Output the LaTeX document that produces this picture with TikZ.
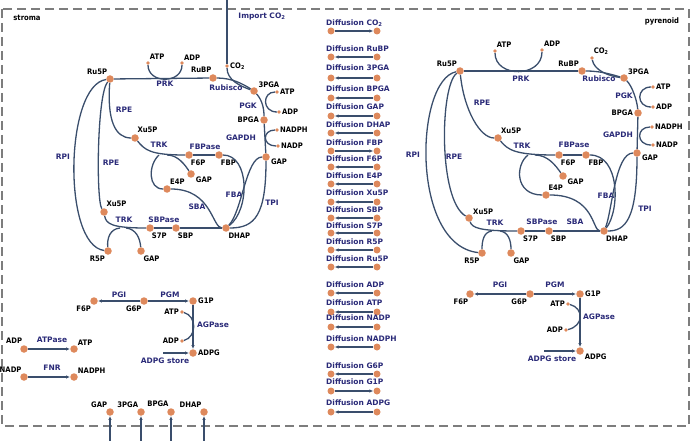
\documentclass[tikz,border=0pt]{standalone}
\usepackage{fontspec}
\setmainfont{DejaVu Sans}
\newfontfamily\metfont{DejaVu Sans Condensed}
\usetikzlibrary{arrows.meta, positioning}
\definecolor{dotc}{RGB}{222,137,92}
\definecolor{linec}{RGB}{58,78,108}
\definecolor{enzc}{RGB}{42,42,120}
\definecolor{edgec}{RGB}{125,125,125}

\begin{document}
\begin{tikzpicture}[x=1pt, y=-1pt,
  dot/.style={circle, fill=dotc, inner sep=0pt, minimum size=7.5pt},
  sdot/.style={circle, fill=dotc, inner sep=0pt, minimum size=3.6pt},
  met/.style={font=\metfont\fontsize{7.6}{8}\selectfont\bfseries, text=black, inner sep=1pt},
  enz/.style={font=\fontsize{7.5}{8}\selectfont\bfseries, text=enzc, inner sep=1pt},
  rxn/.style={draw=linec, line width=1.3pt},
  arrow/.style={rxn, -{Latex[length=4pt, width=3.5pt]}},
  dfw/.style={-{Latex[length=4pt, width=3.5pt]}},
  dbw/.style={{Latex[length=4pt, width=3.5pt]}-},
  border/.style={draw=edgec, line width=1.2pt, dash pattern=on 9pt off 5pt}]
\useasboundingbox (0,0) rectangle (691,441);
\draw[border] (2,9) rectangle (689,426);
\node[met] (stroma) at (27,18) {stroma};
\node[met] (pyrenoid) at (662,21) {pyrenoid};

% stroma: Calvin cycle
\node[dot, label={[met]115:Ru5P}] (sRu5P) at (110,79) {};
\node[dot, label={[met]95:RuBP}] (sRuBP) at (213,78) {};
\node[sdot, label={[met]70:ATP}] (sATP1) at (148,63) {};
\node[sdot, label={[met]60:ADP}] (sADP1) at (182,63) {};
\node[sdot, label={[met]0:CO\textsubscript{2}}] (sCO2) at (227,66) {};
\node[dot, label={[met]30:3PGA}] (s3PGA) at (254,91) {};
\node[sdot, label={[met]0:ATP}] (sATP2) at (277,92) {};
\node[sdot, label={[met]0:ADP}] (sADP2) at (279,112) {};
\node[dot, label={[met]180:BPGA}] (sBPGA) at (264,120) {};
\node[sdot, label={[met]0:NADPH}] (sNADPH) at (277,130) {};
\node[sdot, label={[met]0:NADP}] (sNADP) at (278,146) {};
\node[dot, label={[met]-10:GAP}] (sGAP1) at (266,157) {};
\node[dot, label={[met]70:Xu5P}] (sXu5P1) at (135,138) {};
\node[dot, label={[met]-80:F6P}] (sF6P) at (189,155) {};
\node[dot, label={[met]-80:FBP}] (sFBP) at (219,155) {};
\node[dot, label={[met]-20:GAP}] (sGAP2) at (191,174) {};
\node[dot, label={[met]60:E4P}] (sE4P) at (167,189) {};
\node[dot, label={[met]70:Xu5P}] (sXu5P2) at (104,212) {};
\node[dot, label={[met]-80:S7P}] (sS7P) at (150,228) {};
\node[dot, label={[met]-80:SBP}] (sSBP) at (176,228) {};
\node[dot, label={[met]-70:DHAP}] (sDHAP) at (226,228) {};
\node[dot, label={[met]-120:R5P}] (sR5P) at (108,251) {};
\node[dot, label={[met]-70:GAP}] (sGAP3) at (141,251) {};
\coordinate (sImp) at (227,0);
\coordinate (sTrkA) at (167,155);
\coordinate (sTrkB) at (159,155);
\coordinate (sTrkC) at (120,228);
\coordinate (sTrkD) at (126,228);

\node[enz] (sImpL) at (262,16) {Import CO\textsubscript{2}};
\node[enz] (sPRK) at (165,84) {PRK};
\node[enz] (sRubisco) at (226,88) {Rubisco};
\node[enz] (sPGK) at (248,106) {PGK};
\node[enz] (sGAPDH) at (241,138) {GAPDH};
\node[enz] (sRPE1) at (124,110) {RPE};
\node[enz] (sTRK1) at (159,145) {TRK};
\node[enz] (sFBPase) at (205,147) {FBPase};
\node[enz] (sRPI) at (63,157) {RPI};
\node[enz] (sRPE2) at (111,163) {RPE};
\node[enz] (sSBA) at (197,207) {SBA};
\node[enz] (sFBA) at (234,195) {FBA};
\node[enz] (sTPI) at (272,203) {TPI};
\node[enz] (sTRK2) at (124,220) {TRK};
\node[enz] (sSBPase) at (164,220) {SBPase};

\draw[rxn] (sRu5P) -- (sRuBP);
\draw[rxn] (sATP1) .. controls (148,84) and (182,84) .. (sADP1);
\draw[rxn] (sRuBP) .. controls (232,78) and (243,84) .. (s3PGA);
\draw[rxn] (sImp) -- (sCO2);
\draw[rxn] (sCO2) .. controls (227,80) and (240,86) .. (s3PGA);
\draw[rxn] (s3PGA) .. controls (262,100) and (264,108) .. (sBPGA);
\draw[rxn] (sATP2) .. controls (262,92) and (262,112) .. (sADP2);
\draw[rxn] (sBPGA) -- (sGAP1);
\draw[rxn] (sNADPH) .. controls (262,130) and (262,146) .. (sNADP);
\draw[rxn] (sRu5P) .. controls (107,120) and (115,138) .. (sXu5P1);
\draw[rxn] (sRu5P) .. controls (97,95) and (96,200) .. (sXu5P2);
\draw[rxn] (sRu5P) .. controls (65,85) and (62,245) .. (sR5P);
\draw[rxn] (sXu5P1) .. controls (145,150) and (150,155) .. (sF6P);
\draw[rxn] (sTrkA) .. controls (178,155) and (185,165) .. (sGAP2);
\draw[rxn] (sTrkB) .. controls (148,165) and (148,189) .. (sE4P);
\draw[rxn] (sFBP) -- (sF6P);
\draw[rxn] (sFBP) .. controls (250,155) and (250,210) .. (sDHAP);
\draw[rxn] (sGAP1) .. controls (246,157) and (242,212) .. (sDHAP);
\draw[rxn] (sGAP1) .. controls (266,215) and (255,228) .. (sDHAP);
\draw[rxn] (sE4P) .. controls (212,189) and (212,228) .. (sDHAP);
\draw[rxn] (sSBP) -- (sDHAP);
\draw[rxn] (sS7P) -- (sSBP);
\draw[rxn] (sXu5P2) .. controls (106,224) and (112,228) .. (sS7P);
\draw[rxn] (sTrkC) .. controls (110,229) and (107,238) .. (sR5P);
\draw[rxn] (sTrkD) .. controls (136,229) and (140,238) .. (sGAP3);

% stroma: starch, ATP and NADPH
\node[dot, label={[met]-120:F6P}] (sF6Pb) at (94,301) {};
\node[dot, label={[met]-110:G6P}] (sG6P) at (144,301) {};
\node[dot, label={[met]0:G1P}] (sG1P) at (193,301) {};
\node[sdot, label={[met]180:ATP}] (sATP3) at (182,312) {};
\node[sdot, label={[met]180:ADP}] (sADP3) at (182,341) {};
\node[dot, label={[met]0:ADPG}] (sADPG) at (193,353) {};
\coordinate (sStore) at (163,353);
\node[enz] (sPGI) at (119,295) {PGI};
\node[enz] (sPGM) at (170,295) {PGM};
\node[enz] (sAGPase) at (213,325) {AGPase};
\node[enz] (sStoreL) at (165,361) {ADPG store};
\draw[arrow] (sG6P) -- (sF6Pb);
\draw[arrow] (sG6P) -- (sG1P);
\draw[arrow] (sG1P) -- (sADPG);
\draw[rxn] (sATP3) .. controls (197,316) and (197,337) .. (sADP3);
\draw[arrow] (sStore) -- (sADPG);

\node[dot, label={[met]100:ADP}] (sADPa) at (24,349) {};
\node[dot, label={[met]45:ATP}] (sATPa) at (74,349) {};
\node[dot, label={[met]110:NADP}] (sNADPa) at (24,377) {};
\node[dot, label={[met]45:NADPH}] (sNADPHa) at (74,377) {};
\node[enz] (sATPase) at (52,340) {ATPase};
\node[enz] (sFNR) at (52,368) {FNR};
\draw[arrow] (sADPa) -- (sATPa);
\draw[arrow] (sNADPa) -- (sNADPHa);

% exchange with the cytosol
\node[dot, label={[met]115:GAP}] (bGAP) at (110,412) {};
\node[dot, label={[met]115:3PGA}] (b3PGA) at (141,412) {};
\node[dot, label={[met]110:BPGA}] (bBPGA) at (171,412) {};
\node[dot, label={[met]110:DHAP}] (bDHAP) at (204,412) {};
\coordinate (bGAPo) at (110,441);
\coordinate (b3PGAo) at (141,441);
\coordinate (bBPGAo) at (171,441);
\coordinate (bDHAPo) at (204,441);
\draw[arrow] (bGAPo) -- (bGAP);
\draw[arrow] (b3PGAo) -- (b3PGA);
\draw[arrow] (bBPGAo) -- (bBPGA);
\draw[arrow] (bDHAPo) -- (bDHAP);

% diffusion between stroma and pyrenoid
\foreach \nm/\ly/\dy/\dir [count=\i] in {{CO\textsubscript{2}}/23/31/dfw, RuBP/49/57/dbw,
    3PGA/68/78/dbw, BPGA/89/98/dbw, GAP/107/116/dbw, DHAP/125/133/dbw, FBP/143/151/dfw,
    F6P/159/167/dbw, E4P/176/184/dbw, Xu5P/193/202/dbw, SBP/210/218/dbw, S7P/226/233/dbw,
    R5P/242/250/dbw, Ru5P/259/267/dbw, ADP/285/293/dbw, ATP/303/312/dbw, NADP/318/327/dbw,
    NADPH/339/347/dbw, G6P/366/374/dbw, G1P/382/391/dfw, ADPG/403/412/dbw} {
  \node[enz, anchor=west] (dl\i) at (325,\ly) {Diffusion \nm};
  \node[dot, minimum size=7pt] (da\i) at (331,\dy) {};
  \node[dot, minimum size=7pt] (db\i) at (377,\dy) {};
  \draw[rxn, line width=1.1pt, \dir] (da\i) -- (db\i);
}

% pyrenoid: Calvin cycle
\node[dot, label={[met]120:Ru5P}] (pRu5P) at (460,71) {};
\node[dot, label={[met]120:RuBP}] (pRuBP) at (582,71) {};
\node[sdot, label={[met]70:ATP}] (pATP1) at (495,51) {};
\node[sdot, label={[met]65:ADP}] (pADP1) at (542,50) {};
\node[sdot, label={[met]70:CO\textsubscript{2}}] (pCO2) at (592,58) {};
\node[dot, label={[met]40:3PGA}] (p3PGA) at (624,78) {};
\node[sdot, label={[met]0:ATP}] (pATP2) at (653,87) {};
\node[sdot, label={[met]0:ADP}] (pADP2) at (653,107) {};
\node[dot, label={[met]180:BPGA}] (pBPGA) at (638,113) {};
\node[sdot, label={[met]0:NADPH}] (pNADPH) at (652,127) {};
\node[sdot, label={[met]0:NADP}] (pNADP) at (653,145) {};
\node[dot, label={[met]-10:GAP}] (pGAP1) at (637,153) {};
\node[dot, label={[met]60:Xu5P}] (pXu5P1) at (498,138) {};
\node[dot, label={[met]-80:F6P}] (pF6P) at (559,155) {};
\node[dot, label={[met]-70:FBP}] (pFBP) at (586,155) {};
\node[dot, label={[met]-30:GAP}] (pGAP2) at (563,176) {};
\node[dot, label={[met]70:E4P}] (pE4P) at (546,195) {};
\node[dot, label={[met]40:Xu5P}] (pXu5P2) at (469,218) {};
\node[dot, label={[met]-75:S7P}] (pS7P) at (521,231) {};
\node[dot, label={[met]-80:SBP}] (pSBP) at (549,231) {};
\node[dot, label={[met]-75:DHAP}] (pDHAP) at (604,231) {};
\node[dot, label={[met]-110:R5P}] (pR5P) at (482,253) {};
\node[dot, label={[met]-70:GAP}] (pGAP3) at (511,253) {};
\coordinate (pTrkA) at (535,155);
\coordinate (pTrkB) at (528,155);
\coordinate (pTrkC) at (492,231);
\coordinate (pTrkD) at (500,231);

\node[enz] (pPRK) at (521,79) {PRK};
\node[enz] (pRubisco) at (599,79) {Rubisco};
\node[enz] (pPGK) at (624,96) {PGK};
\node[enz] (pGAPDH) at (618,135) {GAPDH};
\node[enz] (pRPE1) at (482,103) {RPE};
\node[enz] (pTRK1) at (522,146) {TRK};
\node[enz] (pFBPase) at (574,145) {FBPase};
\node[enz] (pRPI) at (413,155) {RPI};
\node[enz] (pRPE2) at (454,157) {RPE};
\node[enz] (pFBA) at (606,196) {FBA};
\node[enz] (pTPI) at (645,209) {TPI};
\node[enz] (pSBA) at (575,222) {SBA};
\node[enz] (pSBPase) at (542,222) {SBPase};
\node[enz] (pTRK2) at (495,223) {TRK};

\draw[rxn] (pRu5P) -- (pRuBP);
\draw[rxn] (pATP1) .. controls (495,78) and (542,78) .. (pADP1);
\draw[rxn] (pRuBP) .. controls (600,71) and (610,74) .. (p3PGA);
\draw[rxn] (pCO2) .. controls (594,70) and (608,76) .. (p3PGA);
\draw[rxn] (p3PGA) .. controls (632,86) and (637,100) .. (pBPGA);
\draw[rxn] (pATP2) .. controls (636,87) and (636,107) .. (pADP2);
\draw[rxn] (pBPGA) -- (pGAP1);
\draw[rxn] (pNADPH) .. controls (636,127) and (636,145) .. (pNADP);
\draw[rxn] (pRu5P) .. controls (464,110) and (480,138) .. (pXu5P1);
\draw[rxn] (pRu5P) .. controls (440,85) and (438,200) .. (pXu5P2);
\draw[rxn] (pRu5P) .. controls (415,80) and (410,245) .. (pR5P);
\draw[rxn] (pXu5P1) .. controls (508,150) and (515,155) .. (pF6P);
\draw[rxn] (pTrkA) .. controls (548,155) and (556,166) .. (pGAP2);
\draw[rxn] (pTrkB) .. controls (515,165) and (515,195) .. (pE4P);
\draw[rxn] (pFBP) -- (pF6P);
\draw[rxn] (pFBP) .. controls (620,155) and (620,210) .. (pDHAP);
\draw[rxn] (pGAP1) .. controls (615,153) and (612,212) .. (pDHAP);
\draw[rxn] (pGAP1) .. controls (637,220) and (625,231) .. (pDHAP);
\draw[rxn] (pE4P) .. controls (595,195) and (592,231) .. (pDHAP);
\draw[rxn] (pSBP) -- (pDHAP);
\draw[rxn] (pS7P) -- (pSBP);
\draw[rxn] (pXu5P2) .. controls (472,228) and (480,231) .. (pS7P);
\draw[rxn] (pTrkC) .. controls (484,232) and (482,240) .. (pR5P);
\draw[rxn] (pTrkD) .. controls (508,232) and (511,240) .. (pGAP3);

% pyrenoid: starch
\node[dot, label={[met]-100:F6P}] (pF6Pb) at (470,294) {};
\node[dot, label={[met]-120:G6P}] (pG6P) at (530,294) {};
\node[dot, label={[met]0:G1P}] (pG1P) at (580,294) {};
\node[sdot, label={[met]180:ATP}] (pATP3) at (568,304) {};
\node[sdot, label={[met]180:ADP}] (pADP3) at (566,330) {};
\node[dot, label={[met]-20:ADPG}] (pADPG) at (580,351) {};
\coordinate (pStore) at (544,351);
\node[enz] (pPGI) at (500,285) {PGI};
\node[enz] (pPGM) at (555,285) {PGM};
\node[enz] (pAGPase) at (599,317) {AGPase};
\node[enz] (pStoreL) at (552,359) {ADPG store};
\draw[arrow] (pG6P) -- (pF6Pb);
\draw[arrow] (pG6P) -- (pG1P);
\draw[arrow] (pG1P) -- (pADPG);
\draw[rxn] (pATP3) .. controls (584,308) and (584,326) .. (pADP3);
\draw[arrow] (pStore) -- (pADPG);
\end{tikzpicture}
\end{document}
